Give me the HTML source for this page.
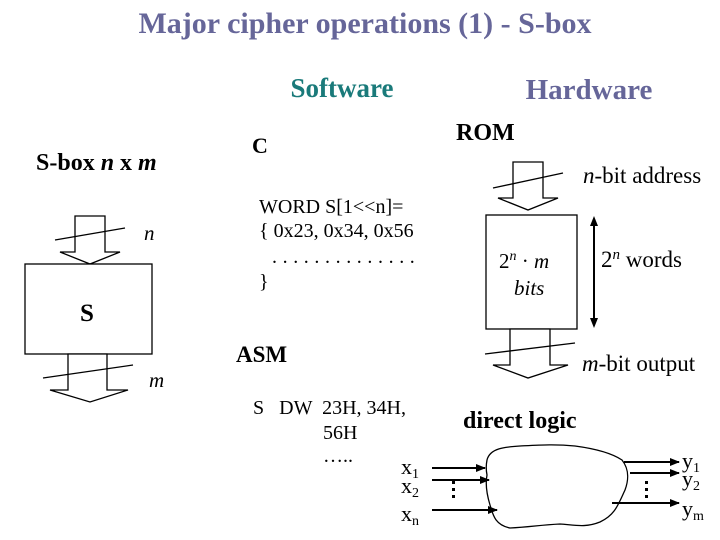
<!DOCTYPE html>
<html><head><meta charset="utf-8"><style>
html,body{margin:0;padding:0;background:#fff;}
svg{display:block;font-family:"Liberation Serif",serif;}
</style></head><body>
<svg width="720" height="540" viewBox="0 0 720 540" xmlns="http://www.w3.org/2000/svg">
<defs><marker id="ah" markerWidth="10" markerHeight="8" refX="9" refY="4" orient="auto" markerUnits="userSpaceOnUse"><path d="M0,0 L10,4 L0,8 z" fill="#000"/></marker></defs>
<text x="365" y="33" text-anchor="middle" font-size="30" font-weight="bold" fill="#666699">Major cipher operations (1) - S-box</text>
<text x="342" y="97" text-anchor="middle" font-size="27" font-weight="bold" fill="#1a7a7a">Software</text>
<text x="589" y="99" text-anchor="middle" font-size="29" font-weight="bold" fill="#666699">Hardware</text>
<text x="36" y="170" font-size="24" font-weight="bold">S-box <tspan font-style="italic">n</tspan> x <tspan font-style="italic">m</tspan></text>
<text x="252" y="153" font-size="22" font-weight="bold">C</text>
<text x="456" y="140" font-size="24" font-weight="bold">ROM</text>
<g fill="#fff" stroke="#000" stroke-width="1.3">
<path d="M75,216 H105 V252 H120 L90,264 L60,252 H75 Z"/>
<rect x="25" y="264" width="127" height="90"/>
<path d="M68,354 H107 V390 H128 L90,402 L50,390 H68 Z"/>
<path d="M513,162 H543 V198 H558 L528,210 L498,198 H513 Z"/>
<rect x="486" y="215" width="91" height="114"/>
<path d="M510,329 H550 V365 H568 L528,378 L493,365 H510 Z"/>
<path d="M487,460 C490,448 505,447 520,446 C540,445 555,444 575,446 C590,448 610,452 622,460 C630,470 628,482 625,490 C618,505 615,515 600,522 C585,528 575,525 560,524 C540,525 530,527 510,528 C495,525 493,515 490,505 C487,495 485,485 487,475 C486,470 486,465 487,460 Z"/>
</g>
<g stroke="#000" stroke-width="1.3">
<line x1="55" y1="240" x2="125" y2="228"/>
<line x1="43" y1="378" x2="133" y2="365"/>
<line x1="493" y1="188" x2="563" y2="173"/>
<line x1="485" y1="354" x2="575" y2="343"/>
</g>
<g stroke="#000" stroke-width="2">
<line x1="594" y1="222" x2="594" y2="322"/>
<line x1="432" y1="468" x2="485" y2="468" marker-end="url(#ah)"/>
<line x1="432" y1="480" x2="489" y2="480" marker-end="url(#ah)"/>
<line x1="432" y1="510" x2="497" y2="510" marker-end="url(#ah)"/>
<line x1="624" y1="462" x2="679" y2="462" marker-end="url(#ah)"/>
<line x1="630" y1="473" x2="679" y2="473" marker-end="url(#ah)"/>
<line x1="612" y1="503" x2="679" y2="503" marker-end="url(#ah)"/>
</g>
<path d="M594,216 L590,226 L598,226 Z M594,328 L590,318 L598,318 Z" fill="#000"/>
<g fill="#000"><rect x="452" y="481" width="3" height="3"/><rect x="452" y="488" width="3" height="3"/><rect x="452" y="495" width="3" height="3"/>
<rect x="645" y="481" width="3" height="3"/><rect x="645" y="488" width="3" height="3"/><rect x="645" y="495" width="3" height="3"/></g>
<text x="144" y="240" font-size="21" font-style="italic">n</text>
<text x="149" y="387" font-size="21" font-style="italic">m</text>
<text x="87" y="321" font-size="25" font-weight="bold" text-anchor="middle">S</text>
<text x="583" y="183" font-size="23"><tspan font-style="italic">n</tspan>-bit address</text>
<text x="582" y="371" font-size="23"><tspan font-style="italic">m</tspan>-bit output</text>
<text x="499" y="268" font-size="21">2<tspan font-size="14" dy="-8" font-style="italic">n</tspan><tspan dy="8"> · </tspan><tspan font-style="italic">m</tspan></text>
<text x="514" y="295" font-size="21" font-style="italic">bits</text>
<text x="601" y="267" font-size="23">2<tspan font-size="15" dy="-8" font-style="italic">n</tspan><tspan dy="8"> words</tspan></text>
<g font-size="20">
<text x="259" y="213">WORD S[1&lt;&lt;n]=</text>
<text x="259" y="237">{ 0x23, 0x34, 0x56</text>
<text x="272" y="263" letter-spacing="5.6">..............</text>
<text x="259" y="288">}</text>
<text x="253" y="414">S &#160; DW &#160;23H, 34H,</text>
<text x="323" y="439">56H</text>
<text x="323" y="462">…..</text>
</g>
<text x="236" y="362" font-size="23" font-weight="bold">ASM</text>
<text x="463" y="428" font-size="24" font-weight="bold">direct logic</text>
<g font-size="22">
<text x="401" y="474">x<tspan font-size="14" dy="4">1</tspan></text>
<text x="401" y="493">x<tspan font-size="14" dy="4">2</tspan></text>
<text x="401" y="521">x<tspan font-size="14" dy="4">n</tspan></text>
<text x="682" y="468">y<tspan font-size="14" dy="4">1</tspan></text>
<text x="682" y="486">y<tspan font-size="14" dy="4">2</tspan></text>
<text x="682" y="516">y<tspan font-size="14" dy="4">m</tspan></text>
</g>
</svg>
</body></html>
